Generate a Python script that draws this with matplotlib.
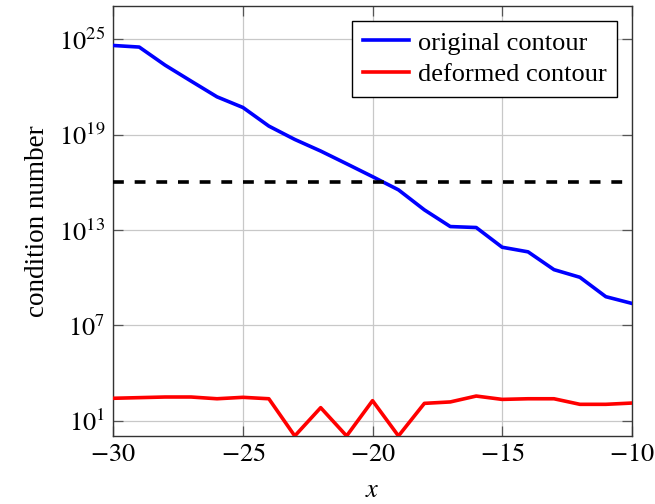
import numpy as np
import matplotlib
matplotlib.use("Agg")
import matplotlib.pyplot as plt

x_vals = [-30, -29, -28, -27, -26, -25, -24, -23, -22, -21, -20,
          -19, -18, -17, -16, -15, -14, -13, -12, -11, -10]
original_log10 = [24.6, 24.5, 23.36, 22.36, 21.37, 20.7, 19.53, 18.69, 17.96, 17.16, 16.35,
                  15.52, 14.26, 13.21, 13.15, 11.91, 11.62, 10.5, 10.02, 8.8, 8.38]
deformed_log10 = [2.41, 2.45, 2.49, 2.49, 2.38, 2.47, 2.38, 0.04, 1.82, 0.04, 2.26,
                  0.04, 2.09, 2.18, 2.55, 2.34, 2.38, 2.38, 2.03, 2.03, 2.11]
threshold = 1e16
labels = ["original contour", "deformed contour"]

plt.rcParams['font.family'] = ['Liberation Serif', 'DejaVu Serif']
plt.rcParams['mathtext.fontset'] = 'stix'

fig = plt.figure(figsize=(6.55, 5.04), dpi=100)
ax = fig.add_axes([0.173, 0.135, 0.7915, 0.853])

orig = 10.0 ** np.array(original_log10)
defo = 10.0 ** np.array(deformed_log10)

ax.plot(x_vals, orig, color='#0000ff', lw=2.6, label=labels[0], zorder=3)
ax.plot(x_vals, defo, color='#ff0000', lw=2.6, label=labels[1], zorder=3)
ax.axhline(threshold, color='black', lw=2.6, ls=(0, (3, 3)), zorder=3)

ax.set_yscale('log')
ax.set_xlim(-30, -10)
ax.set_ylim(10**0.04, 10**27.08)
ax.set_xticks([-30, -25, -20, -15, -10])
ax.set_xticklabels([r'$-30$', r'$-25$', r'$-20$', r'$-15$', r'$-10$'])
yt = [1e1, 1e7, 1e13, 1e19, 1e25]
ax.set_yticks(yt)
ax.set_yticklabels([r'$10^{1}$', r'$10^{7}$', r'$10^{13}$', r'$10^{19}$', r'$10^{25}$'])
ax.minorticks_off()
ax.yaxis.set_minor_locator(matplotlib.ticker.NullLocator())

ax.grid(True, color='#c8c8c8', lw=0.9)
ax.set_axisbelow(True)
ax.tick_params(direction='in', length=7, width=0.9, color='#555555',
               top=True, right=True, labelsize=19, pad=6)
for s in ax.spines.values():
    s.set_linewidth(1.0)
    s.set_color('#333333')

ax.set_xlabel(r'$x$', fontsize=19, labelpad=10)
ax.set_ylabel('condition number', fontsize=19.5, labelpad=6)

leg = ax.legend(loc='upper right', fontsize=19, frameon=True, fancybox=False,
                edgecolor='black', framealpha=1, handlelength=1.75,
                borderaxespad=0.55, borderpad=0.4, labelspacing=0.3, handletextpad=0.35)
leg.get_frame().set_linewidth(1.0)

fig.savefig('out.png', dpi=100)
